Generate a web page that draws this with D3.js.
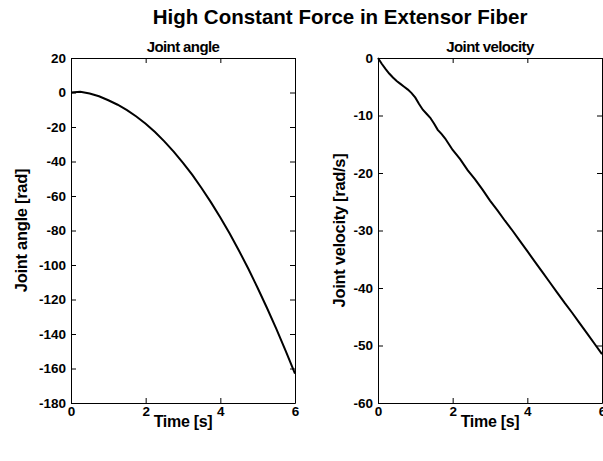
<!DOCTYPE html>
<html>
<head>
<meta charset="utf-8">
<script src="https://cdn.jsdelivr.net/npm/d3@7"></script>
<style>
  body { margin: 0; background: #fff; }
  svg { display: block; font-family: "Liberation Sans", Arial, sans-serif; }
  .tick text { font-weight: bold; font-size: 13.5px; }
</style>
</head>
<body>
<div id="chart-area"></div>
<script>
// time samples and curves
const angleTime = [0, 0.25, 0.5, 0.75, 1, 1.25, 1.5, 1.75, 2, 2.25, 2.5, 2.75, 3,
    3.25, 3.5, 3.75, 4, 4.25, 4.5, 4.75, 5, 5.25, 5.5, 5.75, 6]
const angleValues = [0, 0.4, -0.6, -2.2, -4.5, -7.1, -10.2, -13.9, -18.1, -22.9, -28.3, -34.3, -40.8,
    -47.8, -55.5, -63.7, -72.5, -81.8, -91.7, -102.2, -113.3, -124.9, -137.0, -149.8, -163]

const velocityTime = [0, 0.1, 0.2, 0.3, 0.4, 0.5, 0.6, 0.7, 0.8, 0.9, 1.0, 1.1, 1.2, 1.3, 1.4,
    1.5, 1.6, 1.7, 1.8, 1.9, 2.0, 2.2, 2.4, 2.6, 2.8, 3.0, 3.2, 3.4, 3.6, 3.8, 4.0,
    4.2, 4.4, 4.6, 4.8, 5.0, 5.2, 5.4, 5.6, 5.8, 6.0]
const velocityValues = [0, -1.0, -1.9, -2.7, -3.4, -4.0, -4.5, -5.0, -5.5, -6.1, -6.9, -8.0, -9.0, -9.7, -10.4,
    -11.4, -12.5, -13.2, -14.0, -15.0, -16.0, -17.6, -19.5, -21.1, -22.9, -24.8, -26.5, -28.3, -30.0, -31.8, -33.6,
    -35.4, -37.2, -39.0, -40.8, -42.6, -44.3, -46.1, -47.9, -49.7, -51.5]

const timeTicks = [0, 2, 4, 6]
const angleTicks = [20, 0, -20, -40, -60, -80, -100, -120, -140, -160, -180]
const velocityTicks = [0, -10, -20, -30, -40, -50, -60]

const W = 603, H = 461
const TOP = 58, BOTTOM = 403
const PLAIN = d => String(d)   // hyphen minus, no decimals

const svg = d3.select("#chart-area").append("svg")
    .attr("width", W)
    .attr("height", H)

svg.append("text")
    .attr("x", 340)
    .attr("y", 24)
    .attr("text-anchor", "middle")
    .attr("font-size", "20.5px")
    .attr("font-weight", "bold")
    .text("High Constant Force in Extensor Fiber")

function drawPanel(left, right, yDomain, yTicks, times, values, title, yLabel, labelOffset) {
    const x = d3.scaleLinear().domain([0, 6]).range([left, right])
    const y = d3.scaleLinear().domain(yDomain).range([BOTTOM, TOP])
    const g = svg.append("g")
    const mid = left + 112

    // box style axes with inward ticks on all sides
    g.append("g")
        .attr("transform", `translate(0, ${BOTTOM})`)
        .call(d3.axisBottom(x).tickValues(timeTicks).tickSizeInner(-5).tickSizeOuter(0).tickPadding(3).tickFormat(PLAIN))
    g.append("g")
        .attr("transform", `translate(0, ${TOP})`)
        .call(d3.axisTop(x).tickValues(timeTicks).tickSizeInner(-5).tickSizeOuter(0).tickFormat(""))
    g.append("g")
        .attr("transform", `translate(${left}, 0)`)
        .call(d3.axisLeft(y).tickValues(yTicks).tickSizeInner(-5).tickSizeOuter(0).tickPadding(5).tickFormat(PLAIN))
    g.append("g")
        .attr("transform", `translate(${right}, 0)`)
        .call(d3.axisRight(y).tickValues(yTicks).tickSizeInner(-5).tickSizeOuter(0).tickFormat(""))

    g.selectAll(".domain").attr("stroke", "#000")
    g.selectAll(".tick line").attr("stroke", "#000")
    g.selectAll(".tick text").attr("fill", "#000")

    const pts = times.map((t, i) => [t, values[i]])
    g.append("path")
        .datum(pts)
        .attr("fill", "none")
        .attr("stroke", "#000")
        .attr("stroke-width", 2)
        .attr("d", d3.line().x(d => x(d[0])).y(d => y(d[1])))

    g.append("text")
        .attr("x", mid)
        .attr("y", 52)
        .attr("text-anchor", "middle")
        .attr("font-size", "15px")
        .attr("font-weight", "bold")
        .attr("letter-spacing", "-0.6px")
        .text(title)

    g.append("text")
        .attr("x", mid)
        .attr("y", 427)
        .attr("text-anchor", "middle")
        .attr("font-size", "16px")
        .attr("font-weight", "bold")
        .attr("letter-spacing", "-0.3px")
        .text("Time [s]")

    g.append("text")
        .attr("transform", `translate(${left - labelOffset}, ${(TOP + BOTTOM) / 2}) rotate(-90)`)
        .attr("text-anchor", "middle")
        .attr("font-size", "16.5px")
        .attr("font-weight", "bold")
        .attr("letter-spacing", "-0.3px")
        .text(yLabel)
}

drawPanel(71, 295, [-180, 20], angleTicks, angleTime, angleValues, "Joint angle", "Joint angle [rad]", 44)
drawPanel(378, 602, [-60, 0], velocityTicks, velocityTime, velocityValues, "Joint velocity", "Joint velocity [rad/s]", 33)
</script>
</body>
</html>
